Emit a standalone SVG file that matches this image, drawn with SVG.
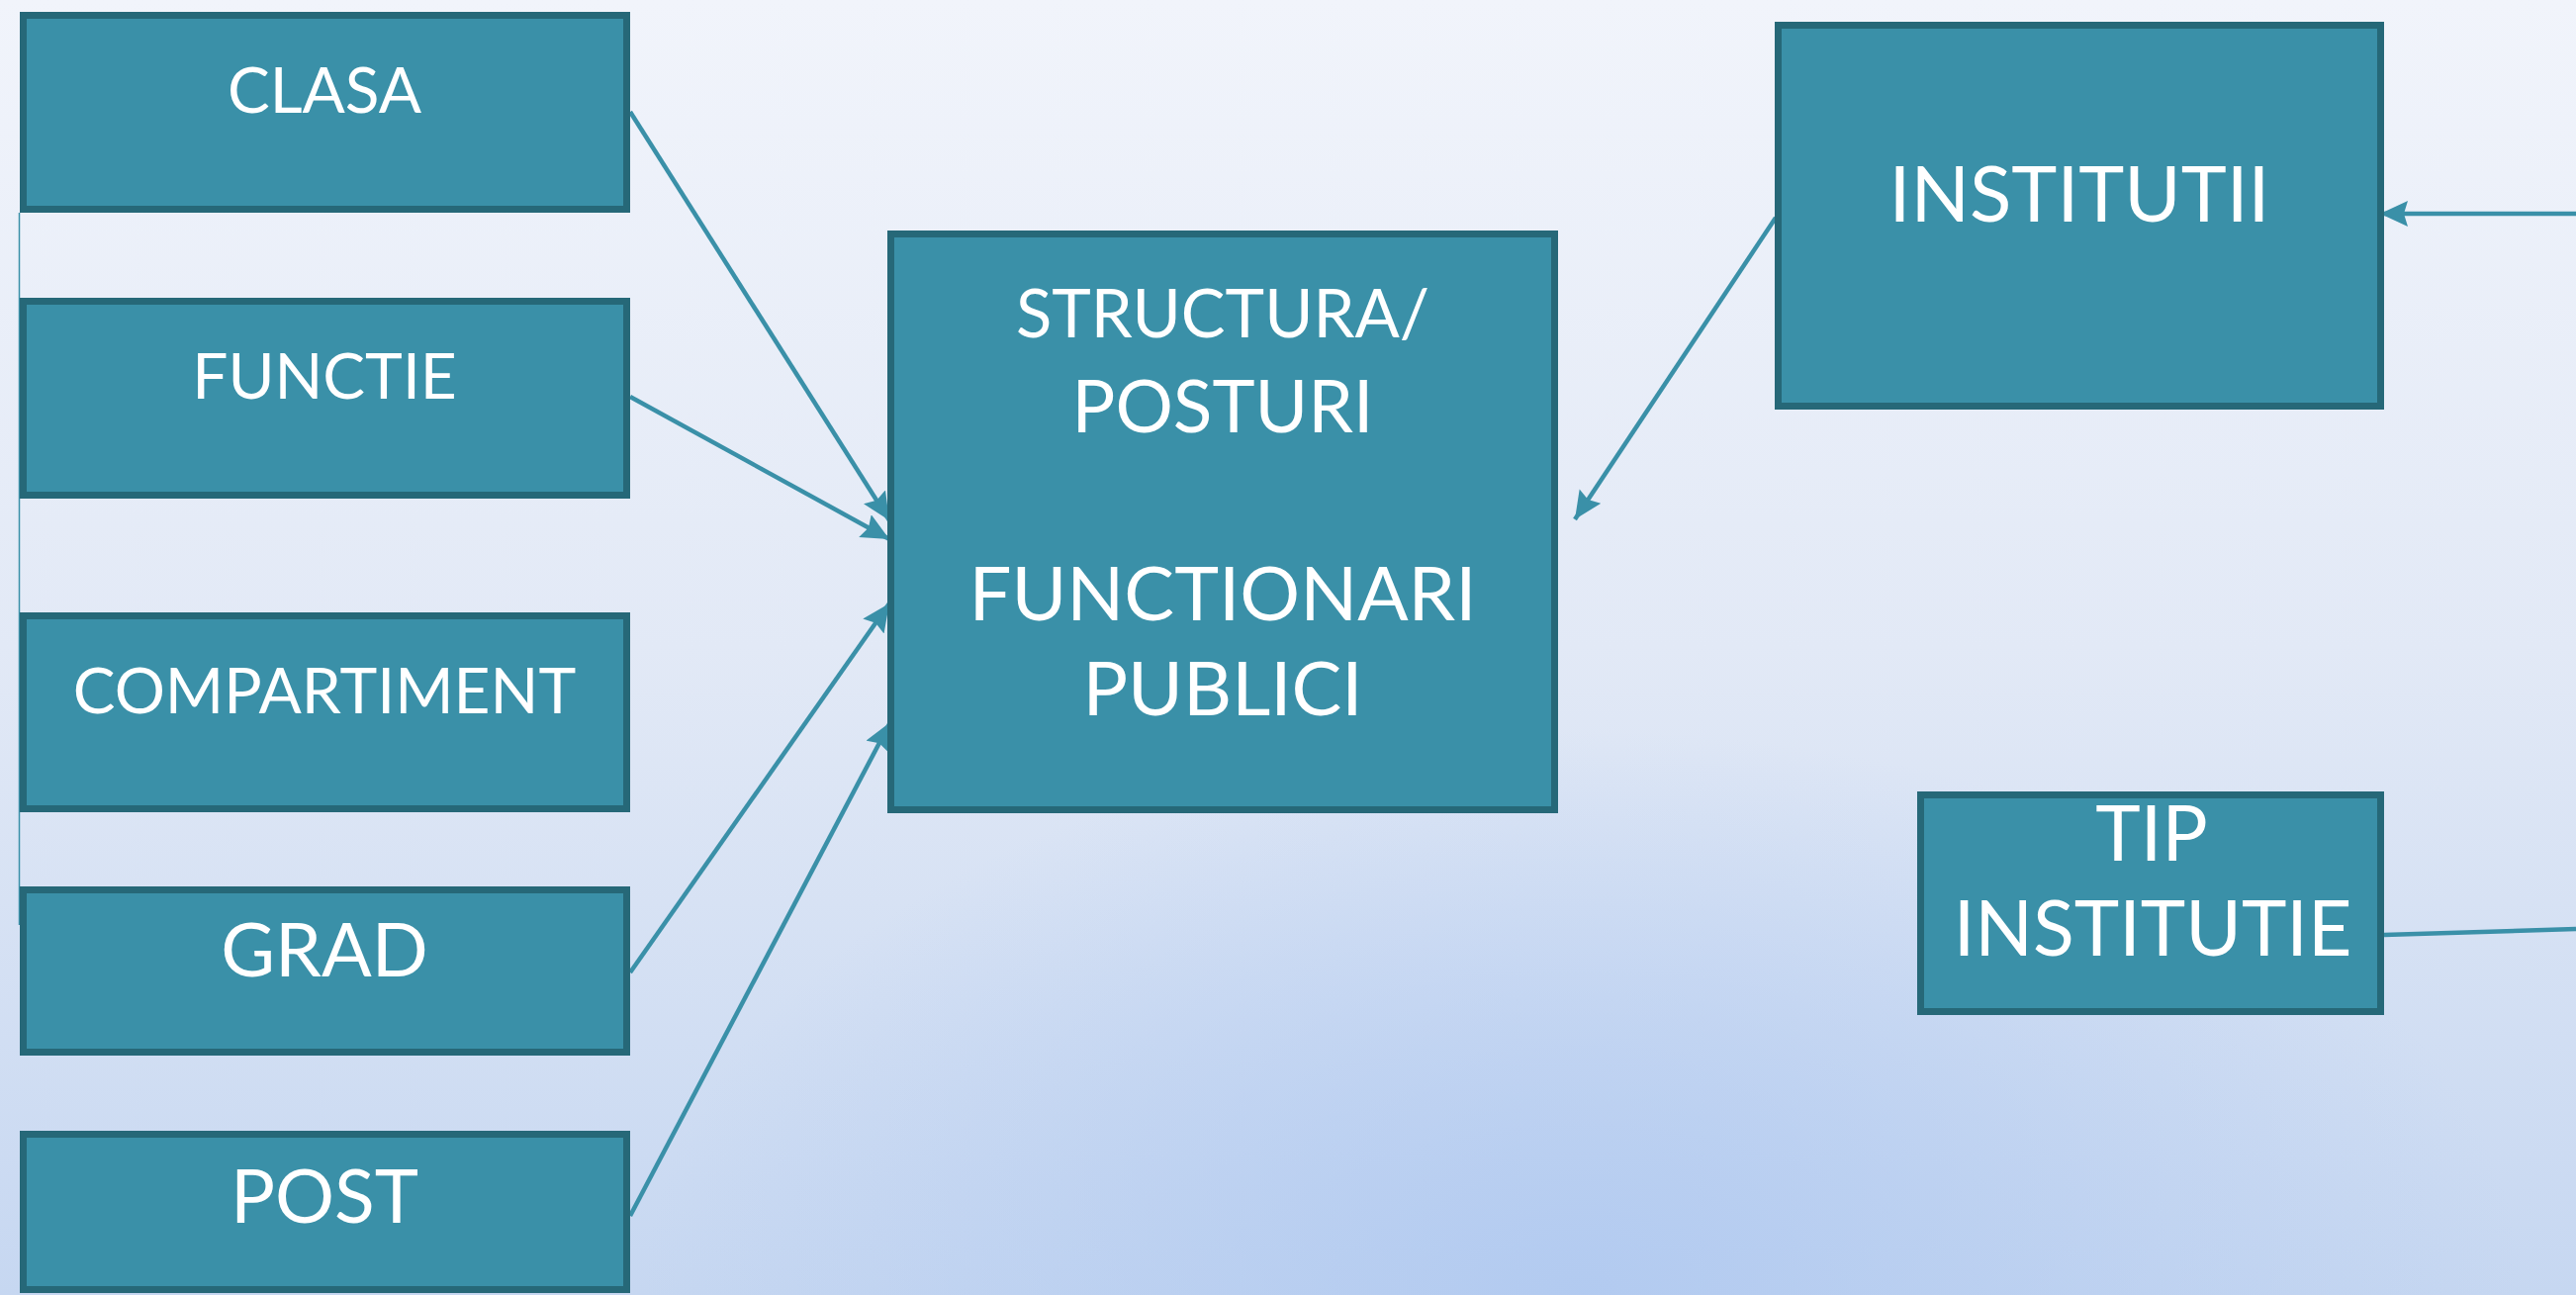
<svg xmlns="http://www.w3.org/2000/svg" width="2604" height="1309" viewBox="0 0 2604 1309">
  <defs>
    <linearGradient id="bg" x1="0" y1="0" x2="0" y2="1">
      <stop offset="0" stop-color="#F1F4FB"/>
      <stop offset="0.5" stop-color="#E2E9F6"/>
      <stop offset="1" stop-color="#C6D7F1"/>
    </linearGradient>
    <radialGradient id="glow" cx="1600" cy="1309" r="950" gradientUnits="userSpaceOnUse" gradientTransform="translate(1600 1309) scale(1 0.6) translate(-1600 -1309)">
      <stop offset="0" stop-color="#B0C9F0" stop-opacity="0.9"/>
      <stop offset="1" stop-color="#B0C9F0" stop-opacity="0"/>
    </radialGradient>
    <marker id="arrow" markerUnits="userSpaceOnUse" markerWidth="32" markerHeight="30" refX="28" refY="13" orient="auto">
      <path d="M0,0 L28,13 L0,26 L4,13 z" fill="#3A90A8"/>
    </marker>
  </defs>
  <style>
    .box { fill: #3A90A8; stroke: #266878; stroke-width: 7; }
    .lbl { font-family: Lato, "Open Sans", "Liberation Sans", sans-serif; fill: #FFFFFF; text-anchor: middle; }
    .conn { stroke: #3A90A8; stroke-width: 4.5; fill: none; }
  </style>
  <rect x="0" y="0" width="2604" height="1309" fill="url(#bg)"/>
  <rect x="0" y="0" width="2604" height="1309" fill="url(#glow)"/>
  <line x1="19.5" y1="215" x2="19.5" y2="935" stroke="#3A90A8" stroke-width="1.5"/>

  <g id="connectors">
    <line class="conn" x1="637" y1="113" x2="899" y2="526" marker-end="url(#arrow)"/>
    <line class="conn" x1="637" y1="401" x2="899" y2="545" marker-end="url(#arrow)"/>
    <line class="conn" x1="637" y1="983" x2="899" y2="610" marker-end="url(#arrow)"/>
    <line class="conn" x1="637" y1="1229" x2="900" y2="730" marker-end="url(#arrow)"/>
    <line class="conn" x1="1795" y1="220" x2="1592" y2="525" marker-end="url(#arrow)"/>
    <line class="conn" x1="2604" y1="216" x2="2406" y2="216" marker-end="url(#arrow)"/>
    <line class="conn" x1="2410" y1="945" x2="2604" y2="939" stroke-width="5"/>
  </g>

  <g id="clasa">
    <rect class="box" x="23.5" y="15.5" width="610" height="196"/>
    <text class="lbl" x="328" y="114" font-size="64">CLASA</text>
  </g>
  <g id="functie">
    <rect class="box" x="23.5" y="304.5" width="610" height="196"/>
    <text class="lbl" x="328" y="403" font-size="64">FUNCTIE</text>
  </g>
  <g id="compartiment">
    <rect class="box" x="23.5" y="622.5" width="610" height="195"/>
    <text class="lbl" x="328" y="721" font-size="64">COMPARTIMENT</text>
  </g>
  <g id="grad">
    <rect class="box" x="23.5" y="899.5" width="610" height="164"/>
    <text class="lbl" x="328" y="987" font-size="75">GRAD</text>
  </g>
  <g id="post">
    <rect class="box" x="23.5" y="1146.5" width="610" height="157"/>
    <text class="lbl" x="328" y="1236" font-size="75">POST</text>
  </g>
  <g id="structura">
    <rect class="box" x="900.5" y="236.5" width="671" height="582"/>
    <text class="lbl" x="1236" y="341" font-size="67">STRUCTURA/</text>
    <text class="lbl" x="1236" y="437" font-size="73">POSTURI</text>
    <text class="lbl" x="1236" y="627" font-size="76">FUNCTIONARI</text>
    <text class="lbl" x="1236" y="723" font-size="76">PUBLICI</text>
  </g>
  <g id="institutii">
    <rect class="box" x="1797.5" y="25.5" width="609" height="385"/>
    <text class="lbl" x="2102" y="224" font-size="78">INSTITUTII</text>
  </g>
  <g id="tip-institutie">
    <rect class="box" x="1941.5" y="803.5" width="465" height="219"/>
    <text class="lbl" x="2175" y="870" font-size="77">TIP</text>
    <text class="lbl" x="2176" y="966" font-size="77">INSTITUTIE</text>
  </g>
</svg>
